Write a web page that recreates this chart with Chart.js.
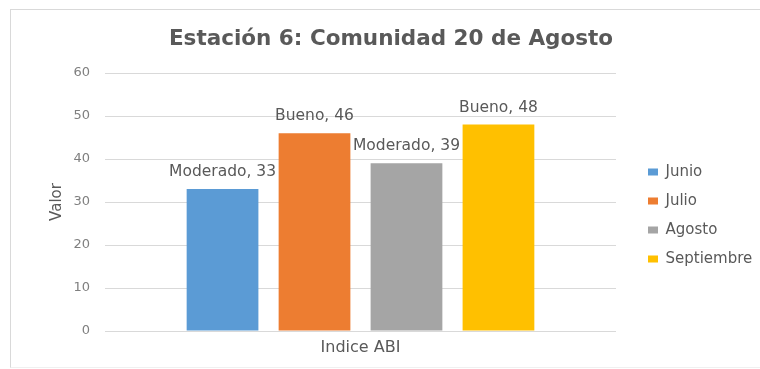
<!DOCTYPE html>
<html>
<head>
<meta charset="utf-8">
<script src="https://cdn.jsdelivr.net/npm/chart.js@4/dist/chart.umd.min.js"></script>
<style>
  html, body { margin: 0; padding: 0; background: #fff; overflow: hidden; }
  #wrap { position: relative; width: 760px; height: 369px; overflow: hidden; }
  #frame {
    position: absolute; left: 10px; top: 9px; width: 760px; height: 357px;
    border-left: 1px solid #d9d9d9; border-top: 1px solid #d9d9d9; border-bottom: 1px solid #f0f0f0;
  }
  canvas { position: absolute; left: 0; top: 0; }
</style>
</head>
<body>
<div id="wrap">
  <div id="frame"></div>
  <canvas id="chart" width="760" height="369"></canvas>
</div>
<script>
// one category, one bar per month
const categories = ["Indice ABI"];
const months = ["Junio", "Julio", "Agosto", "Septiembre"];
const values = [33, 46, 39, 48];
const ratings = ["Moderado", "Bueno", "Moderado", "Bueno"];
const barColors = ["#5B9BD5", "#ED7D31", "#A5A5A5", "#FFC000"];
const yTicks = [0, 10, 20, 30, 40, 50, 60];

const fontFamily = "'DejaVu Sans', sans-serif";
const textColor = "#595959";

//draw "rating, value" above each bar
const barLabels = {
  id: "barLabels",
  afterDatasetsDraw(chart) {
    const ctx = chart.ctx;
    ctx.save();
    ctx.font = "15.5px " + fontFamily;
    ctx.fillStyle = textColor;
    ctx.textAlign = "center";
    ctx.textBaseline = "middle";
    chart.data.datasets.forEach((ds, i) => {
      chart.getDatasetMeta(i).data.forEach((bar, j) => {
        ctx.fillText(ratings[i] + ", " + ds.data[j], bar.x, bar.y - 17);
      });
    });
    ctx.restore();
  }
};

const datasets = months.map((m, i) => ({
  label: m,
  data: [values[i]],
  backgroundColor: barColors[i],
  categoryPercentage: 0.72,
  barPercentage: 0.78
}));

new Chart(document.getElementById("chart"), {
  type: "bar",
  data: { labels: categories, datasets: datasets },
  plugins: [barLabels],
  options: {
    responsive: false,
    animation: false,
    layout: { padding: { left: 26.5, right: 4.5, top: 0, bottom: 4 } },
    plugins: {
      tooltip: { enabled: false },
      title: {
        display: true,
        text: "Estación 6: Comunidad 20 de Agosto",
        color: textColor,
        font: { family: fontFamily, size: 21.5, weight: "bold" },
        padding: { top: 27, bottom: 20.2 }
      },
      legend: {
        position: "right",
        // empty title just pushes the items down
        title: { display: true, text: " ", font: { size: 12 }, padding: { top: 51.6, bottom: 0 } },
        labels: {
          color: textColor,
          font: { family: fontFamily, size: 15 },
          boxWidth: 10,
          boxHeight: 7,
          padding: 14
        }
      }
    },
    scales: {
      x: {
        grid: { display: false, drawTicks: false },
        border: { display: false },
        ticks: { color: textColor, font: { family: fontFamily, size: 16 }, padding: 7.4 }
      },
      y: {
        min: 0,
        max: 60,
        afterBuildTicks: (axis) => { axis.ticks = yTicks.map(v => ({ value: v })); },
        afterFit: (axis) => { axis.width = 78.5; },
        grid: { color: "#d9d9d9", drawTicks: false },
        border: { display: false },
        ticks: { color: "#7f7f7f", font: { family: fontFamily, size: 13 }, padding: 15 },
        title: {
          display: true,
          text: "Valor",
          color: textColor,
          font: { family: fontFamily, size: 15 },
          padding: { top: 21.5, bottom: 0 }
        }
      },
      // blank strip between plot and legend
      gap: {
        type: "linear",
        position: "right",
        afterFit: (axis) => { axis.width = 18; },
        grid: { display: false, drawTicks: false },
        border: { display: false },
        ticks: { display: false }
      }
    }
  }
});
</script>
</body>
</html>
